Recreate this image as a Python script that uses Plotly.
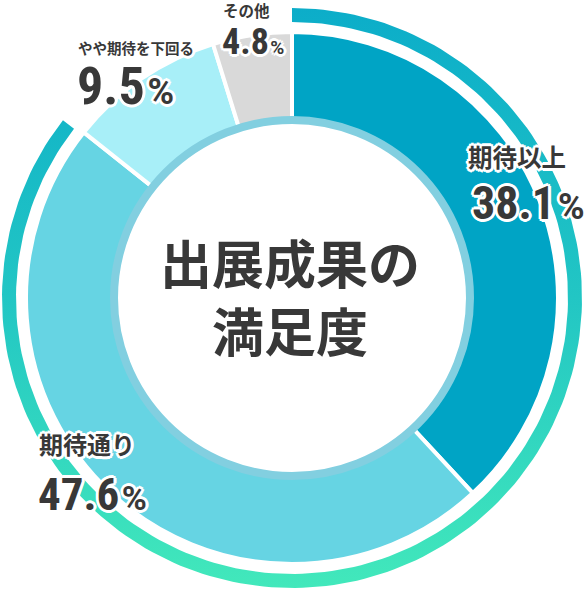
import numpy as np
import plotly.graph_objects as go

labels = ["期待以上", "期待通り", "やや期待を下回る", "その他"]
values = [38.1, 47.6, 9.5, 4.8]
slice_colors = ["#00a4c5", "#66d4e3", "#a8eff8", "#d9d9d9"]
title_lines = ["出展成果の", "満足度"]

W, H = 587, 594
cx, cy = 292, 594 - 298   # chart centre, y measured from the bottom

fig = go.Figure()

# main donut
r_pie = 266
fig.add_trace(go.Pie(
    labels=labels, values=values, sort=False, direction="clockwise",
    marker=dict(colors=slice_colors, line=dict(color="white", width=4)),
    hole=178 / r_pie, textinfo="none", hoverinfo="label+percent",
    showlegend=False,
    domain=dict(x=[(cx - r_pie) / W, (cx + r_pie) / W],
                y=[(cy - r_pie) / H, (cy + r_pie) / H]),
))

# outer gradient ring for the "satisfied" share (first two answers)
satisfied = (values[0] + values[1]) / sum(values)
t = np.linspace(0, 2 * np.pi * satisfied - 0.012, 200)
r_out, r_in = 290, 276
ring_x = np.concatenate([cx + r_out * np.sin(t), cx + r_in * np.sin(t[::-1])])
ring_y = np.concatenate([cy + r_out * np.cos(t), cy + r_in * np.cos(t[::-1])])
fig.add_trace(go.Scatter(
    x=ring_x, y=ring_y, mode="lines", fill="toself",
    line=dict(width=0, color="rgba(0,0,0,0)"),
    fillgradient=dict(type="vertical",
                      colorscale=[[0, "#42e8bb"], [0.5, "#22c6c4"], [1, "#0cadc9"]]),
    hoverinfo="skip", showlegend=False,
))

# inner circle border
r_b = 178
fig.add_shape(type="circle", xref="x", yref="y",
              x0=cx - r_b, x1=cx + r_b, y0=cy - r_b, y1=cy + r_b,
              line=dict(color="#82cfe0", width=8), fillcolor="white", layer="above")

ink = "#383838"
jp = "Noto Sans CJK JP"
num = "Roboto Condensed, Liberation Sans Narrow, DejaVu Sans Condensed, Roboto"
halo = ", ".join(f"{a}px {b}px 0 #fff" for a, b in
                 [(3, 0), (-3, 0), (0, 3), (0, -3), (2, 2), (-2, 2), (2, -2), (-2, -2)])

fig.add_annotation(x=cx - 2, y=H - 295, xref="x", yref="y", showarrow=False,
                   text="<br>".join(title_lines),
                   font=dict(family=jp, size=52, color=ink, weight=700))

# label layout: (name x, name y, name size, value x, value y, value size, pct size)
spots = [
    (466, 156, 24.5, 470, 203, 46, 36),
    (37, 443, 24, 36, 494, 45, 34),
    (76, 47, 14.5, 75, 86, 52, 36),
    (221, 10, 15.5, 220, 42, 36, 19),
]
for lab, val, (nx, ny, ns, vx, vy, vs, ps) in zip(labels, values, spots):
    fig.add_annotation(x=nx, y=H - ny, xref="x", yref="y", showarrow=False,
                       xanchor="left", yanchor="middle", text=lab,
                       font=dict(family=jp, size=ns, color=ink, weight=700, shadow=halo))
    fig.add_annotation(x=vx, y=H - vy, xref="x", yref="y", showarrow=False,
                       xanchor="left", yanchor="middle",
                       text=(f"<span style='font-stretch:condensed'>{val}</span>"
                             f"<span style='font-size:{ps // 3}px'> </span>"
                             f"<span style='font-family:Roboto;font-size:{ps}px'>%</span>"),
                       font=dict(family=num, size=vs, color=ink, weight=700, shadow=halo))

fig.update_layout(
    width=W, height=H, margin=dict(l=0, r=0, t=0, b=0),
    paper_bgcolor="white", plot_bgcolor="white",
    xaxis=dict(range=[0, W], visible=False, fixedrange=True),
    yaxis=dict(range=[0, H], visible=False, fixedrange=True),
)

fig.write_html("out.html", config={"displayModeBar": False},
               post_script="document.body.style.margin='0';")
